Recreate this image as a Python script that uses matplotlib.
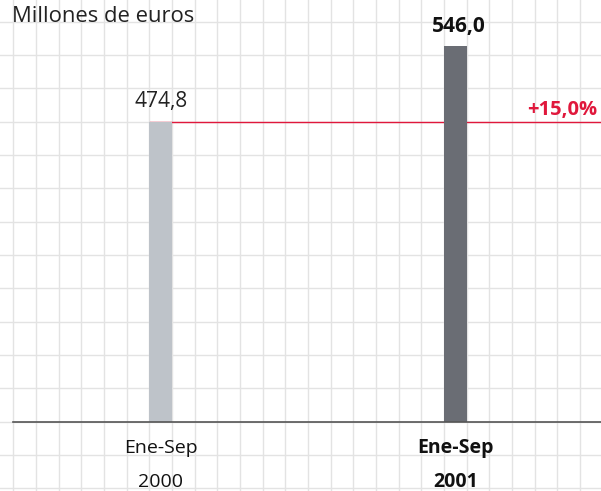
import numpy as np
import matplotlib
matplotlib.use("Agg")
import matplotlib.pyplot as plt

# data
periods = ["Ene-Sep\n2000", "Ene-Sep\n2001"]
values = [474.8, 546.0]
value_labels = ["474,8", "546,0"]
change_label = "+15,0%"
unit_label = "Millones de euros"

base = 192.0          # bars start here (axis is not zero based)
bar_colors = ["#bec3c9", "#6a6d74"]
red = "#e0183c"
plt.rcParams['font.family'] = ['Open Sans', 'DejaVu Sans']

fig = plt.figure(figsize=(6.01, 4.91), dpi=100)

# background grid covering the whole figure (pixel coordinates)
bg = fig.add_axes([0, 0, 1, 1])
bg.set_xlim(0, 601)
bg.set_ylim(491, 0)
bg.set_xticks(np.arange(13.3, 601, 22.667))
bg.set_yticks(np.arange(21.7, 491, 33.333))
bg.grid(True, color="#e3e3e3", lw=1)
bg.tick_params(length=0, labelbottom=False, labelleft=False)
for s in bg.spines.values():
    s.set_visible(False)

# main axes on top
ax = fig.add_axes([0, 0, 1, 1])
ax.patch.set_alpha(0)
px = 1.061  # pixels per unit
ax.set_ylim(base - (491 - 421.7) / px, base + 421.7 / px)
x = np.arange(len(values))
ax.set_xlim(-0.545, 1.494)
heights = [v - base for v in values]
ax.bar(x, heights, bottom=base, width=0.077, color=bar_colors, zorder=3)
ax.plot([-0.5, 1.494], [base, base], color="#555555", lw=1.2, zorder=4)
ax.plot([-0.035, 1.494], [values[0], values[0]], color=red, lw=1, zorder=2)
ax.axis("off")

ax.text(x[0], values[0] + 13.6, value_labels[0], ha="center", va="baseline",
        fontsize=15, color="#222222")
ax.text(x[1] + 0.01, values[1] + 13.2, value_labels[1], ha="center", va="baseline",
        fontsize=15, fontweight="bold", color="#111111")
ax.text(1.482, values[0] + 6.3, change_label, ha="right", va="baseline",
        fontsize=14.5, fontweight="bold", color=red)

for i, p in enumerate(periods):
    top, bottom = p.split("\n")
    w = "bold" if i == 1 else "normal"
    ax.text(x[i], base - 26 / px, top, ha="center", va="center",
            fontsize=14, fontweight=w, color="#111111")
    ax.text(x[i], base - 60 / px, bottom, ha="center", va="center",
            fontsize=14, fontweight=w, color="#111111")

fig.text(12 / 601, 1 - 22 / 491, unit_label, ha="left", va="baseline",
         fontsize=15.8, color="#222222")

fig.savefig("out.png", dpi=100)
